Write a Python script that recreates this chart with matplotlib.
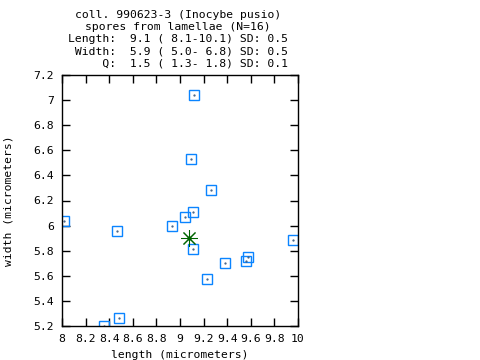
import numpy as np
import matplotlib
matplotlib.use("Agg")
import matplotlib.pyplot as plt

length = [8.02, 8.47, 8.36, 8.48, 8.93, 9.04, 9.11, 9.11,
          9.12, 9.09, 9.26, 9.23, 9.38, 9.56, 9.58, 9.96]
width = [6.04, 5.96, 5.20, 5.26, 6.00, 6.07, 6.11, 5.81,
         7.04, 6.53, 6.28, 5.575, 5.70, 5.72, 5.75, 5.885]
mean_length = [9.08]
mean_width = [5.90]

title_lines = [
    "coll. 990623-3 (Inocybe pusio)",
    "spores from lamellae (N=16)",
    "Length:  9.1 ( 8.1-10.1) SD: 0.5",
    " Width:  5.9 ( 5.0- 6.8) SD: 0.5",
    "     Q:  1.5 ( 1.3- 1.8) SD: 0.1",
]
xticks = [8, 8.2, 8.4, 8.6, 8.8, 9, 9.2, 9.4, 9.6, 9.8, 10]
yticks = [5.2, 5.4, 5.6, 5.8, 6, 6.2, 6.4, 6.6, 6.8, 7, 7.2]

plt.rcParams["font.family"] = "DejaVu Sans Mono"
fs = 8.2

fig = plt.figure(figsize=(4.8, 3.6), dpi=100)
ax = fig.add_axes([62 / 480, 34 / 360, 236 / 480, 251 / 360])

ax.plot(length, width, ls="none", marker="s", ms=7.6, mfc="none",
        mec="#0a84ff", mew=1.0)
ax.plot(length, width, ls="none", marker=".", ms=1.2, color="#3a5a80")
ax.plot(mean_length, mean_width, ls="none", marker=(8, 2, 0), ms=12,
        color="#006400", mew=0.75)
ax.plot(mean_length, mean_width, ls="none", marker="o", ms=2.0,
        color="#006400")

ax.set_xlim(8, 10)
ax.set_ylim(5.2, 7.2)
ax.set_xticks(xticks)
ax.set_xticklabels(["%g" % t for t in xticks])
ax.set_yticks(yticks)
ax.set_yticklabels(["%g" % t for t in yticks])
ax.tick_params(direction="in", length=5.5, width=1, top=True, right=True,
               labelsize=fs, pad=6, colors="black")
for s in ax.spines.values():
    s.set_linewidth(1.0)

ax.set_xlabel("length (micrometers)", fontsize=fs, labelpad=4)
ax.set_ylabel("width (micrometers)", fontsize=fs, labelpad=14)

fig.text(178 / 480, 1 - 10 / 360, "\n".join(title_lines), ha="center",
         va="top", multialignment="center", fontsize=fs, linespacing=1.26)

fig.savefig("out.png", dpi=100)
